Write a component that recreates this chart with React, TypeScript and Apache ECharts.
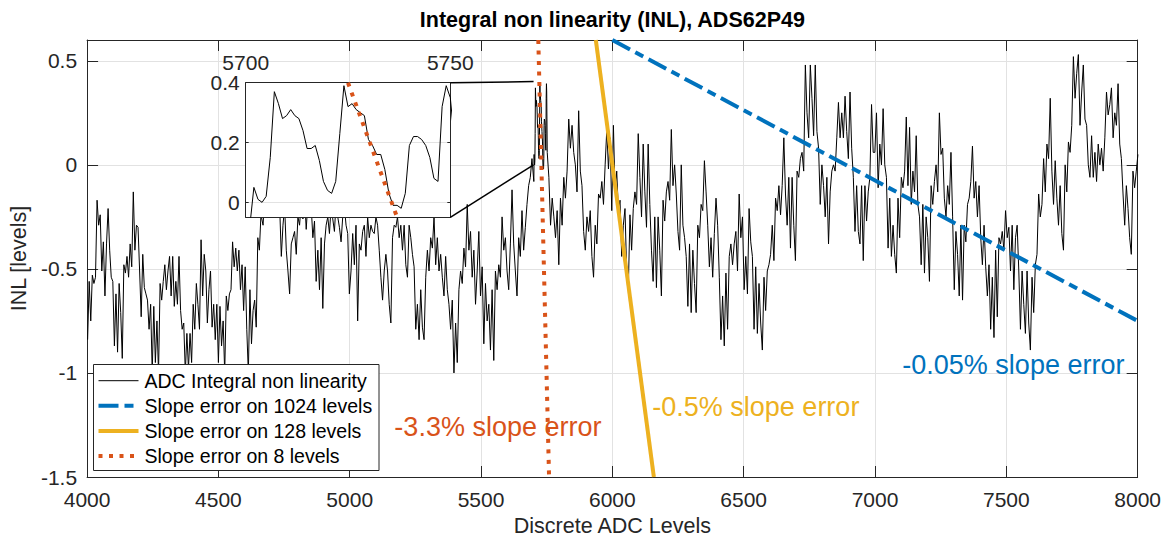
import React, { useEffect, useRef } from "react";
import * as echarts from "echarts";

// ---- style constants ----
const FONT = '"Liberation Sans", Arial, Helvetica, sans-serif';
const AXIS_COLOR = "#262626";
const GRID_COLOR = "#e2e2e2";
const BLUE = "#0072BD";
const ORANGE = "#D95319";
const YELLOW = "#EDB120";

// ---- axes ----
const X_MIN = 4000;
const X_MAX = 8000;
const X_STEP = 500;
const Y_MIN = -1.5;
const Y_MAX = 0.6;
const Y_STEP = 0.5;

// zoomed inset window
const ZOOM_X_MIN = 5700;
const ZOOM_X_MAX = 5750;
const ZOOM_Y_MIN = -0.05;
const ZOOM_Y_MAX = 0.4;
const ZOOM_Y_TICKS = [0, 0.2, 0.4];
// rectangle in the main plot that the inset magnifies (left edge, top and bottom)
const ZOOM_BOX_X = 5700;
const ZOOM_BOX_TOP = 0.4;
const ZOOM_BOX_BOTTOM = 0;

// ---- INL trace, sampled in runs of equally spaced ADC levels ----
const INL_A_START = 4002;
const INL_A_STEP = 6;
const INL_A = [
  -0.84, -0.56, -0.75, -0.53, -0.57, -0.54, -0.17, -0.29, -0.24, -0.51,
  -0.37, -0.63, -0.38, -0.21, -0.41, -0.54, -0.56, -0.87, -0.62, -0.9,
  -0.57, -0.71, -0.93, -0.48, -0.52, -0.44, -0.54, -0.38, -0.49, -0.13,
  -0.41, -0.29, -0.3, -0.51, -0.73, -0.43, -0.59, -0.62, -0.65, -0.79,
  -0.67, -1.0, -0.68, -0.95, -0.75, -1.0, -0.57, -0.65, -0.56, -0.48,
  -0.6, -0.51, -0.44, -0.63, -0.44, -0.68, -0.56, -0.67, -0.44, -0.7,
  -0.79, -0.76, -1.0, -0.81, -0.98, -0.81, -0.95, -0.67, -0.79, -0.57,
  -0.67, -0.79, -0.36, -0.63, -0.43, -0.51, -0.76, -0.6, -0.51, -0.78,
  -0.67, -0.84, -0.67, -0.95, -0.68, -0.87, -0.75, -1.0, -0.63, -0.7,
  -0.62, -0.6, -0.37, -0.49, -0.4, -0.51, -0.41, -0.6, -0.48, -0.7,
  -0.49, -0.79, -1.0, -0.6, -0.86, -0.7, -0.65, -0.78, -0.35, -0.41,
  -0.24,
];

const INL_B_START = 4670;
const INL_B_STEP = 6.32;
const INL_B = [
  -0.29, -0.15, -0.05, -0.12, -0.02, -0.1, -0.08, -0.15, -0.05, -0.12,
  -0.2, -0.44, -0.29, -0.2, -0.41, -0.51, -0.62, -0.38, -0.35, -0.32,
  -0.43, -0.25, -0.29, -0.18, -0.26, -0.15, -0.31, -0.18, -0.25, -0.2,
  -0.35, -0.27, -0.56, -0.41, -0.6, -0.35, -0.69, -0.38, -0.29, -0.25,
  -0.33, -0.2, -0.26, -0.32, -0.18, -0.25, -0.3, -0.37, -0.25, -0.2,
  -0.29, -0.33, -0.62,
  -0.51, -0.33, -0.48, -0.29, -0.75, -0.38, -0.41, -0.32, -0.29, -0.44,
  -0.25, -0.35, -0.29, -0.32, -0.33, -0.25, -0.29, -0.41, -0.54, -0.65,
  -0.51, -0.43, -0.51, -0.67, -0.76, -0.35, -0.29, -0.3, -0.25, -0.35,
  -0.29, -0.41, -0.29, -0.48, -0.54, -0.29, -0.35, -0.43, -0.49, -0.79,
  -0.67, -0.84, -0.6, -0.78, -0.84, -0.54, -0.41, -0.51, -0.35, -0.4,
  -0.25, -0.48, -0.35, -0.51, -0.43, -0.54, -0.63, -0.44, -0.6, -0.67,
  -0.79, -0.65, -1.0, -0.76, -0.95, -0.6, -0.51, -0.57, -0.4, -0.49,
  -0.19, -0.41, -0.32, -0.54, -0.41, -0.67, -0.51, -0.32, -0.63, -0.49,
  -0.86, -0.57, -0.75, -0.67, -0.89, -0.6, -0.94, -0.51, -0.6, -0.48,
  -0.54, -0.25, -0.41, -0.35, -0.51, -0.6, -0.38, -0.12, -0.38, -0.51,
  -0.63, -0.35, -0.44, -0.22, -0.41, -0.3, -0.19, -0.1, -0.06, 0.03,
];

// every level from 5701 to 5750 (the magnified stretch)
const INL_ZOOM_START = 5701;
const INL_ZOOM_STEP = 1;
const INL_ZOOM = [
  -0.08, 0.05, 0.01, 0.0, 0.02, 0.15, 0.37, 0.33, 0.28, 0.29,
  0.31, 0.29, 0.28, 0.24, 0.18, 0.18, 0.19, 0.14, 0.07, 0.04,
  0.03, 0.07, 0.23, 0.39, 0.32, 0.33, 0.31, 0.3, 0.29, 0.21,
  0.19, 0.16, 0.16, 0.11, 0.03, -0.01, -0.01, -0.02, 0.03, 0.19,
  0.22, 0.22, 0.21, 0.19, 0.15, 0.08, 0.07, 0.32, 0.39, 0.35,
];

const INL_C_START = 5752;
const INL_C_STEP = 6.3;
const INL_C = [
  0.06, -0.06, -0.29, -0.16, -0.25, -0.35, -0.22, -0.48, -0.16, -0.29,
  -0.06, -0.16, -0.03, 0.22, 0.08, 0.19, 0.06, 0.0, -0.13, 0.26,
  -0.03, -0.1, -0.32, -0.41, -0.25, -0.32, -0.22, -0.44, -0.54, -0.29,
  -0.38, -0.14, -0.16, -0.08, -0.19, 0.0, 0.17, -0.02, 0.13,
  -0.22, 0.19, -0.13, -0.03, -0.22, -0.17, -0.44, -0.29, -0.21, -0.51,
  -0.6, -0.24, -0.41, -0.21, -0.13, -0.19, 0.15, -0.06, -0.25, 0.1,
  -0.13, -0.3, 0.1, -0.19, -0.41, -0.56, -0.25, -0.59, -0.25, -0.41,
  -0.63, -0.17, -0.27, -0.13, -0.08, -0.17, 0.17, -0.1, 0.0, -0.14,
  -0.32, -0.41, 0.0, -0.29, -0.35, -0.44, -0.68, -0.38, -0.71, -0.41,
  -0.57, -0.71, -0.29, -0.35, -0.19, -0.22, 0.02, -0.13, -0.29, -0.49,
  -0.35, -0.54, -0.33, -0.16, -0.29, -0.54, -0.84, -0.63, -0.87, -0.52,
  -0.79, -0.44, -0.38, -0.48, -0.38, -0.32, -0.51, -0.14, -0.35, -0.25,
  -0.6, -0.44, -0.62, -0.21, -0.37, -0.44, -0.79, -0.49, -0.81, -0.57,
  -0.76, -0.89, -0.54, -0.7, -0.51, -0.48, -0.43, -0.29, -0.46, -0.16,
  -0.22, -0.1, -0.24, -0.1, 0.13, -0.14, -0.29, -0.06, -0.4, -0.06,
  -0.29, -0.46, -0.03, -0.06, 0.03, 0.06, -0.03, 0.48, 0.25, 0.13,
  0.48, 0.32, 0.14, 0.48, 0.16, 0.08, -0.19, 0.0, -0.1, -0.25,
  -0.06, -0.38, -0.13, -0.03, 0.0, -0.03, 0.13, 0.3, 0.13, 0.25,
  0.13, 0.33, 0.16, 0.03, 0.35, 0.08, -0.06, -0.32, -0.1, -0.32,
  -0.38, -0.1, -0.46, -0.1, -0.27, -0.13, -0.06, 0.29, 0.06,
  0.06, 0.25, -0.11, 0.1, 0.0, 0.27, 0.0, -0.06, -0.4, -0.16,
  -0.44, -0.29, -0.43, -0.52, -0.16, -0.35, -0.06, -0.11, -0.03, 0.23,
  -0.1, 0.18, -0.19, -0.03, -0.13, 0.14, -0.19, -0.25, -0.48, -0.19,
  -0.52, -0.25, -0.35, -0.56, -0.1, -0.19, -0.08, 0.0, -0.13, 0.25,
  0.05, 0.08, -0.16, -0.25, -0.1, -0.19, 0.06, -0.25, -0.6, -0.32,
  -0.43, -0.63, -0.29, -0.65, -0.29, -0.37, -0.19, -0.16, -0.08, 0.09,
  -0.16, -0.08, -0.25, -0.1, -0.35, -0.48, -0.29, -0.49, -0.63, -0.48,
  -0.79, -0.54, -0.83, -0.41, -0.73, -0.35, -0.38, -0.32, -0.41, -0.22,
  -0.35, -0.3, -0.51, -0.29, -0.6, -0.35, -0.29, -0.51, -0.79, -0.51,
  -0.67, -0.81, -0.51, -0.76, -0.89, -0.54, -0.71, -0.48, -0.43, -0.14,
  -0.25, -0.19, 0.03, -0.13, 0.1, 0.03, 0.32, -0.03, -0.19, 0.02,
  -0.16, -0.29, -0.1, -0.33, -0.41, 0.0, -0.13, 0.11, 0.06, 0.19,
  0.52, 0.32, 0.44, 0.53, 0.19, 0.35, 0.48, 0.22, 0.19, 0.0,
  -0.06, 0.14, -0.06, 0.06, -0.08, 0.1, 0.0, 0.08, -0.03, 0.13,
  0.35, 0.24, 0.29, 0.37, 0.13, 0.25, 0.19, 0.39, 0.1, 0.03,
  -0.14, -0.29, -0.1, -0.21, -0.35, -0.43, -0.03, -0.11, -0.03, 0.05,
];

// ---- slope-error reference lines (end points: level, INL) ----
const SLOPE_1024: [number, number][] = [[6000, 0.6], [8000, -0.75]];
const SLOPE_128: [number, number][] = [[5937, 0.6], [6158, -1.5]];
const SLOPE_8: [number, number][] = [[5718, 0.6], [5759, -1.5]];
const SLOPE_8_ZOOM: [number, number][] = [[5725, 0.4], [5737, -0.05]];

const ANNOTATIONS = [
  { text: "-3.3% slope error", level: 5170, inl: -1.262, color: ORANGE },
  { text: "-0.5% slope error", level: 6152, inl: -1.162, color: YELLOW },
  { text: "-0.05% slope error", level: 7104, inl: -0.96, color: BLUE },
];

const NAMES = [
  "ADC Integral non linearity",
  "Slope error on 1024 levels",
  "Slope error on 128 levels",
  "Slope error on 8 levels",
];

const TITLE = "Integral non linearity (INL), ADS62P49";

function run(start: number, step: number, values: number[]): [number, number][] {
  return values.map((v, i) => [Math.round((start + i * step) * 100) / 100, v]);
}

const TRACE: [number, number][] = [
  ...run(INL_A_START, INL_A_STEP, INL_A),
  ...run(INL_B_START, INL_B_STEP, INL_B),
  ...run(INL_ZOOM_START, INL_ZOOM_STEP, INL_ZOOM),
  ...run(INL_C_START, INL_C_STEP, INL_C),
];
const TRACE_ZOOM = TRACE.filter((p) => p[0] >= ZOOM_X_MIN - 8 && p[0] <= ZOOM_X_MAX + 8);

// ---- layout ----
const MAIN_GRID = { left: 83, top: 40, right: 25.5, bottom: 60.3 };
const INSET_GRID = { left: 245.7, top: 82.7, width: 204.6, height: 134.6 };
const LEGEND_BOX = { x: 93.5, y: 364.5, w: 285.5, h: 106 };

const DASH_DOT = [20, 6, 9, 6];
const DOTS = [4, 6.5];

const LEGEND_ITEMS = [
  { name: NAMES[0], color: "#000", width: 1, dash: null as number[] | null },
  { name: NAMES[1], color: BLUE, width: 4, dash: DASH_DOT },
  { name: NAMES[2], color: YELLOW, width: 4, dash: null },
  { name: NAMES[3], color: ORANGE, width: 4, dash: DOTS },
];

const lineStyleAxis = { color: AXIS_COLOR, width: 1 };
const plainNumber = (v: number) => String(v);
const tickLabel = { color: AXIS_COLOR, fontSize: 21, fontFamily: FONT, formatter: plainNumber };

function buildOption() {
  return {
    animation: false,
    backgroundColor: "#fff",
    grid: [
      { ...MAIN_GRID, show: false, z: 0 },
      {
        ...INSET_GRID,
        show: true,
        backgroundColor: "#fff",
        borderWidth: 0,
        z: 5,
      },
    ],
    xAxis: [
      {
        gridIndex: 0,
        type: "value",
        min: X_MIN,
        max: X_MAX,
        interval: X_STEP,
        position: "bottom",
        axisLine: { show: true, onZero: false, lineStyle: lineStyleAxis },
        axisTick: { show: true, inside: true, length: 11, lineStyle: lineStyleAxis },
        axisLabel: { ...tickLabel, margin: 12 },
        splitLine: { show: true, lineStyle: { color: GRID_COLOR, width: 1 } },
        name: "Discrete ADC Levels",
        nameLocation: "middle",
        nameGap: 38,
        nameTextStyle: { color: AXIS_COLOR, fontSize: 21.5, fontFamily: FONT },
      },
      {
        gridIndex: 0,
        type: "value",
        min: X_MIN,
        max: X_MAX,
        interval: X_STEP,
        position: "top",
        axisLine: { show: true, onZero: false, lineStyle: lineStyleAxis },
        axisTick: { show: true, inside: true, length: 11, lineStyle: lineStyleAxis },
        axisLabel: { show: false },
        splitLine: { show: false },
      },
      {
        gridIndex: 1,
        type: "value",
        min: ZOOM_X_MIN,
        max: ZOOM_X_MAX,
        interval: ZOOM_X_MAX - ZOOM_X_MIN,
        position: "top",
        z: 6,
        axisLine: { show: true, onZero: false, lineStyle: lineStyleAxis },
        axisTick: { show: false },
        axisLabel: { ...tickLabel, margin: 10 },
        splitLine: { show: false },
      },
      {
        gridIndex: 1,
        type: "value",
        min: ZOOM_X_MIN,
        max: ZOOM_X_MAX,
        interval: ZOOM_X_MAX - ZOOM_X_MIN,
        position: "bottom",
        z: 6,
        axisLine: { show: true, onZero: false, lineStyle: lineStyleAxis },
        axisTick: { show: false },
        axisLabel: { show: false },
        splitLine: { show: false },
      },
    ],
    yAxis: [
      {
        gridIndex: 0,
        type: "value",
        min: Y_MIN,
        max: Y_MAX,
        interval: Y_STEP,
        position: "left",
        axisLine: { show: true, onZero: false, lineStyle: lineStyleAxis },
        axisTick: { show: true, inside: true, length: 11, lineStyle: lineStyleAxis },
        axisLabel: { ...tickLabel, margin: 10, showMaxLabel: false },
        splitLine: { show: true, lineStyle: { color: GRID_COLOR, width: 1 } },
        name: "INL [levels]",
        nameLocation: "middle",
        nameGap: 50,
        nameTextStyle: { color: AXIS_COLOR, fontSize: 21.5, fontFamily: FONT },
      },
      {
        gridIndex: 0,
        type: "value",
        min: Y_MIN,
        max: Y_MAX,
        interval: Y_STEP,
        position: "right",
        axisLine: { show: true, onZero: false, lineStyle: lineStyleAxis },
        axisTick: { show: true, inside: true, length: 11, lineStyle: lineStyleAxis },
        axisLabel: { show: false },
        splitLine: { show: false },
      },
      {
        gridIndex: 1,
        type: "value",
        min: ZOOM_Y_MIN,
        max: ZOOM_Y_MAX,
        position: "left",
        z: 6,
        axisLine: { show: true, onZero: false, lineStyle: lineStyleAxis },
        axisTick: {
          show: true,
          inside: true,
          length: 3,
          lineStyle: lineStyleAxis,
          customValues: ZOOM_Y_TICKS,
        },
        axisLabel: { ...tickLabel, margin: 6, customValues: ZOOM_Y_TICKS },
        splitLine: { show: true, lineStyle: { color: GRID_COLOR, width: 1 } },
      },
      {
        gridIndex: 1,
        type: "value",
        min: ZOOM_Y_MIN,
        max: ZOOM_Y_MAX,
        position: "right",
        z: 6,
        axisLine: { show: true, onZero: false, lineStyle: lineStyleAxis },
        axisTick: {
          show: true,
          inside: true,
          length: 3,
          lineStyle: lineStyleAxis,
          customValues: ZOOM_Y_TICKS,
        },
        axisLabel: { show: false },
        splitLine: { show: false },
      },
    ],
    series: [
      {
        name: NAMES[0],
        type: "line",
        xAxisIndex: 0,
        yAxisIndex: 0,
        data: TRACE,
        symbol: "none",
        z: 2,
        lineStyle: { color: "#000", width: 1 },
      },
      {
        name: NAMES[1],
        type: "line",
        xAxisIndex: 0,
        yAxisIndex: 0,
        data: SLOPE_1024,
        symbol: "none",
        z: 3,
        lineStyle: { color: BLUE, width: 4, type: DASH_DOT },
      },
      {
        name: NAMES[2],
        type: "line",
        xAxisIndex: 0,
        yAxisIndex: 0,
        data: SLOPE_128,
        symbol: "none",
        z: 3,
        lineStyle: { color: YELLOW, width: 4 },
      },
      {
        name: NAMES[3],
        type: "line",
        xAxisIndex: 0,
        yAxisIndex: 0,
        data: SLOPE_8,
        symbol: "none",
        z: 3,
        lineStyle: { color: ORANGE, width: 4, type: DOTS },
      },
      {
        name: NAMES[0],
        type: "line",
        xAxisIndex: 2,
        yAxisIndex: 2,
        data: TRACE_ZOOM,
        symbol: "none",
        z: 7,
        lineStyle: { color: "#000", width: 1 },
      },
      {
        name: NAMES[3],
        type: "line",
        xAxisIndex: 2,
        yAxisIndex: 2,
        data: SLOPE_8_ZOOM,
        symbol: "none",
        z: 8,
        lineStyle: { color: ORANGE, width: 4, type: DOTS },
      },
    ],
  };
}

function textStyle(text: string, size: number, color: string, align: string, weight = "normal") {
  return {
    text,
    fill: color,
    font: `${weight} ${size}px ${FONT}`,
    align,
    verticalAlign: "middle",
    textAlign: align,
    textVerticalAlign: "middle",
  };
}

export default function App() {
  const ref = useRef<HTMLDivElement>(null);

  useEffect(() => {
    const el = ref.current;
    if (!el) return;
    const chart = echarts.init(el, undefined, { renderer: "svg" });
    chart.setOption(buildOption() as any);

    const main = { xAxisIndex: 0, yAxisIndex: 0 };
    const inset = { xAxisIndex: 2, yAxisIndex: 2 };
    const px = (finder: any, p: number[]) => chart.convertToPixel(finder, p) as unknown as number[];

    const insetTop = px(inset, [ZOOM_X_MAX, ZOOM_Y_MAX]);
    const insetBottom = px(inset, [ZOOM_X_MAX, ZOOM_Y_MIN]);
    const boxTop = px(main, [ZOOM_BOX_X, ZOOM_BOX_TOP]);
    const boxBottom = px(main, [ZOOM_BOX_X, ZOOM_BOX_BOTTOM]);
    const plotLeft = px(main, [X_MIN, Y_MIN])[0];
    const plotRight = px(main, [X_MAX, Y_MIN])[0];

    const graphics: any[] = [];

    graphics.push({
      type: "text",
      x: (plotLeft + plotRight) / 2,
      y: 20,
      z: 20,
      style: textStyle(TITLE, 21.5, "#000", "center", "bold"),
    });

    graphics.push(
      {
        type: "line",
        z: 20,
        shape: { x1: insetTop[0], y1: insetTop[1], x2: boxTop[0], y2: boxTop[1] },
        style: { stroke: "#000", lineWidth: 1.5 },
      },
      {
        type: "line",
        z: 20,
        shape: { x1: insetBottom[0], y1: insetBottom[1], x2: boxBottom[0], y2: boxBottom[1] },
        style: { stroke: "#000", lineWidth: 1.5 },
      }
    );

    ANNOTATIONS.forEach((a) => {
      const p = px(main, [a.level, a.inl]);
      graphics.push({
        type: "text",
        x: p[0],
        y: p[1],
        z: 20,
        style: textStyle(a.text, 27, a.color, "left"),
      });
    });

    // legend box
    graphics.push({
      type: "rect",
      z: 20,
      shape: { x: LEGEND_BOX.x, y: LEGEND_BOX.y, width: LEGEND_BOX.w, height: LEGEND_BOX.h },
      style: { fill: "#fff", stroke: AXIS_COLOR, lineWidth: 1 },
    });
    LEGEND_ITEMS.forEach((item, i) => {
      const cy = LEGEND_BOX.y + 16.2 + i * 25.1;
      graphics.push({
        type: "line",
        z: 21,
        shape: { x1: LEGEND_BOX.x + 5, y1: cy, x2: LEGEND_BOX.x + 45, y2: cy },
        style: {
          stroke: item.color,
          lineWidth: item.width,
          lineDash: item.dash || undefined,
        },
      });
      graphics.push({
        type: "text",
        z: 21,
        x: LEGEND_BOX.x + 51,
        y: cy,
        style: textStyle(item.name, 19.5, "#000", "left"),
      });
    });

    chart.setOption({ graphic: graphics });

    return () => {
      chart.dispose();
    };
  }, []);

  return (
    <div
      ref={ref}
      style={{
        position: "absolute",
        left: 0,
        top: 0,
        width: 1164,
        height: 542,
        background: "#fff",
      }}
    />
  );
}
